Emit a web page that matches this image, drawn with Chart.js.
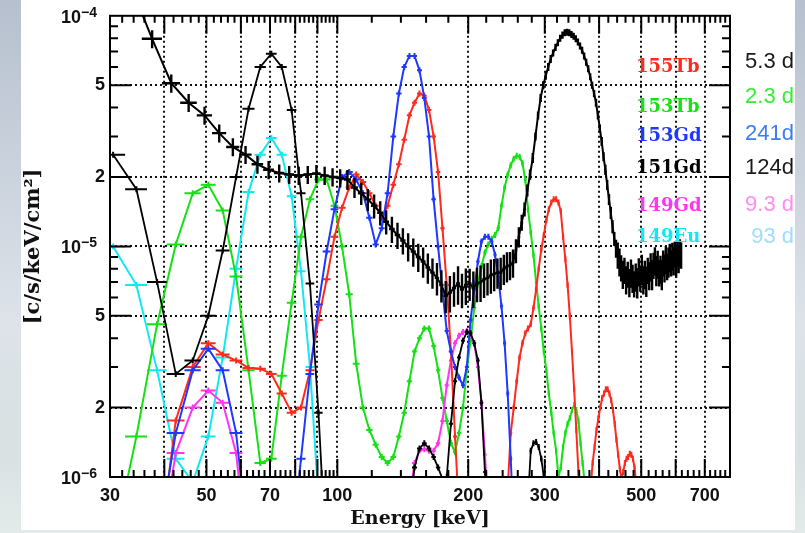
<!DOCTYPE html>
<html>
<head>
<meta charset="utf-8">
<script src="https://cdn.jsdelivr.net/npm/chart.js@4.4.0/dist/chart.umd.min.js"></script>
<style>
  html, body { margin: 0; padding: 0; }
  body {
    width: 805px; height: 533px; overflow: hidden; position: relative;
    background: linear-gradient(180deg, #b6c0ce 0%, #c9d1dc 30%, #dde3e9 60%, #d9e1e2 85%, #e2eaea 100%);
  }
  #panel { position: absolute; left: 21px; top: 0; width: 774px; height: 530px; background: #fff; }
  #wrap { position: absolute; left: 0; top: 0; width: 805px; height: 533px; }
</style>
</head>
<body>
<div id="panel"></div>
<div id="wrap"><canvas id="spectra"></canvas></div>
<script>
// half width of an energy bin (keV), drawn as the horizontal bar of each cross
const BIN_HALF = 2;

// axis ticks
const xLabels = [30, 50, 70, 100, 200, 300, 500, 700];
const xGrid = [40, 50, 60, 70, 80, 90, 100, 200, 300, 400, 500, 600, 700];
const yLabels = [1e-6, 2e-6, 5e-6, 1e-5, 2e-5, 5e-5, 1e-4];
const yGrid = [2e-6, 5e-6, 1e-5, 2e-5, 5e-5];
const yDecades = [1e-6, 1e-5, 1e-4];

const nuclides = ['155Tb', '153Tb', '153Gd', '151Gd', '149Gd', '149Eu'];
const halfLives = ['5.3 d', '2.3 d', '241d', '124d', '9.3 d', '93 d'];

// 155Tb
const tb155E = [38.5, 42.5, 46.5, 50.5, 54.5, 58.5, 62.5, 66.5, 70.5, 74.5,
  78.5, 82.5, 86.5, 90.5, 94.5, 98.5, 102.5, 106.5, 110.5, 114.5,
  118.5, 122.5, 126.5, 130.5, 134.5, 138.5, 142.5, 146.5, 150.5, 154.5,
  158.5, 162.5, 166.5, 170.5, 174.5, 178.5, 182.5, 186.5, 190.5,
  242.5, 246.5, 250.5, 254.5, 258.5, 262.5, 266.5, 270.5, 274.5, 278.5,
  282.5, 286.5, 290.5, 294.5, 298.5, 302.5, 306.5, 310.5, 314.5, 318.5,
  322.5, 326.5, 330.5, 334.5, 338.5, 342.5, 346.5, 350.5, 354.5, 358.5, 362.5,
  382.5, 386.5, 390.5, 394.5, 398.5, 402.5, 406.5, 410.5, 414.5, 418.5,
  422.5, 426.5, 430.5, 434.5, 438.5, 442.5, 446.5, 450.5, 454.5, 458.5,
  462.5, 466.5, 470.5, 474.5, 478.5, 482.5, 486.5, 490.5];
const tb155V = [4e-7, 1.76e-6, 3.0e-6, 3.8e-6, 3.4e-6, 3.2e-6, 2.97e-6, 2.95e-6, 2.8e-6, 2.3e-6,
  1.9e-6, 2.0e-6, 2.9e-6, 4.8e-6, 7.2e-6, 1.1e-5, 1.47e-5, 1.8e-5, 2.05e-5, 1.9e-5,
  1.7e-5, 1.5e-5, 1.33e-5, 1.5e-5, 1.85e-5, 2.27e-5, 2.9e-5, 3.7e-5, 4.2e-5, 4.6e-5,
  4.5e-5, 3.9e-5, 3.0e-5, 2.1e-5, 1.2e-5, 6.8e-6, 3.5e-6, 1.5e-6, 7e-7,
  7e-7, 9e-7, 1.55e-6, 2.0e-6, 2.6e-6, 3.3e-6, 3.8e-6, 4.2e-6, 4.4e-6, 4.6e-6,
  5.4e-6, 6.5e-6, 8.0e-6, 9.7e-6, 1.12e-5, 1.3e-5, 1.45e-5, 1.55e-5, 1.6e-5, 1.6e-5,
  1.55e-5, 1.42e-5, 1.1e-5, 8.8e-6, 6.8e-6, 5.0e-6, 3.5e-6, 2.4e-6, 1.6e-6, 1.05e-6, 6e-7,
  9e-7, 1.15e-6, 1.35e-6, 1.6e-6, 1.8e-6, 2.0e-6, 2.2e-6, 2.3e-6, 2.4e-6, 2.4e-6,
  2.3e-6, 2.15e-6, 1.95e-6, 1.7e-6, 1.45e-6, 1.25e-6, 1.08e-6, 9.8e-7, 1.05e-6, 1.15e-6,
  1.2e-6, 1.22e-6, 1.26e-6, 1.25e-6, 1.2e-6, 1.1e-6, 9.5e-7, 8e-7];

// 153Tb
const tb153E = [30.5, 34.5, 38.5, 42.5, 46.5, 50.5, 54.5, 58.5, 62.5, 66.5,
  70.5, 74.5, 78.5, 82.5, 86.5, 90.5, 94.5, 98.5, 102.5, 106.5,
  110.5, 114.5, 118.5, 122.5, 126.5, 130.5, 134.5, 138.5, 142.5, 146.5,
  150.5, 154.5, 158.5, 162.5, 166.5, 170.5, 174.5, 178.5, 182.5, 186.5,
  190.5, 194.5, 198.5, 202.5, 206.5, 210.5, 214.5, 218.5, 222.5, 226.5,
  230.5, 234.5, 238.5, 242.5, 246.5, 250.5, 254.5, 258.5, 262.5, 266.5,
  270.5, 274.5, 278.5, 282.5, 286.5, 290.5, 294.5, 298.5, 302.5, 306.5,
  310.5, 314.5, 318.5, 322.5, 326.5, 330.5, 334.5, 338.5, 342.5, 346.5,
  350.5, 354.5, 358.5, 362.5, 366.5, 370.5, 374.5];
const tb153V = [5e-7, 1.5e-6, 4.6e-6, 1.02e-5, 1.7e-5, 1.85e-5, 1.43e-5, 7.4e-6, 2.9e-6, 1.15e-6,
  1.2e-6, 2.75e-6, 5.7e-6, 1.1e-5, 1.6e-5, 1.95e-5, 1.95e-5, 1.5e-5, 1.0e-5, 6.2e-6,
  3.1e-6, 2.0e-6, 1.6e-6, 1.38e-6, 1.22e-6, 1.15e-6, 1.22e-6, 1.5e-6, 1.9e-6, 2.6e-6,
  3.5e-6, 4.0e-6, 4.4e-6, 4.4e-6, 3.7e-6, 2.9e-6, 2.2e-6, 1.75e-6, 1.4e-6, 1.28e-6,
  1.55e-6, 2.0e-6, 2.9e-6, 3.9e-6, 5.4e-6, 6.9e-6, 8.2e-6, 9.4e-6, 1.02e-5, 1.08e-5,
  1.12e-5, 1.2e-5, 1.5e-5, 1.8e-5, 2.05e-5, 2.25e-5, 2.4e-5, 2.47e-5, 2.45e-5, 2.3e-5,
  1.95e-5, 1.45e-5, 1.15e-5, 9.2e-6, 7.0e-6, 5.5e-6, 4.4e-6, 3.5e-6, 2.9e-6, 2.3e-6,
  1.9e-6, 1.55e-6, 1.3e-6, 1.0e-6, 1.1e-6, 1.35e-6, 1.55e-6, 1.7e-6, 1.8e-6, 1.95e-6,
  2.05e-6, 1.95e-6, 1.75e-6, 1.4e-6, 1.15e-6, 9.5e-7, 7e-7];

// 153Gd
const gd153E = [38.5, 42.5, 46.5, 50.5, 54.5, 58.5, 62.5,
  78.5, 82.5, 86.5, 90.5, 94.5, 98.5, 102.5, 106.5, 110.5, 114.5,
  118.5, 122.5, 126.5, 130.5, 134.5, 138.5, 142.5, 146.5, 150.5, 154.5,
  158.5, 162.5, 166.5, 170.5, 174.5, 178.5, 182.5, 186.5, 190.5, 194.5,
  198.5, 202.5, 206.5, 210.5, 214.5, 218.5, 222.5, 226.5, 230.5, 234.5,
  238.5, 242.5, 246.5, 250.5, 254.5];
const gd153V = [5e-7, 1.55e-6, 2.9e-6, 3.6e-6, 2.9e-6, 1.55e-6, 5e-7,
  5e-7, 1.2e-6, 2.8e-6, 5.6e-6, 9.5e-6, 1.45e-5, 2.0e-5, 2.1e-5, 1.95e-5, 1.7e-5,
  1.33e-5, 1.02e-5, 1.2e-5, 1.7e-5, 3.0e-5, 4.6e-5, 6.0e-5, 6.7e-5, 6.7e-5, 5.8e-5,
  4.4e-5, 3.0e-5, 1.6e-5, 1.0e-5, 6.4e-6, 4.3e-6, 3.5e-6, 3.0e-6, 2.7e-6, 2.5e-6,
  3.0e-6, 4.8e-6, 6.5e-6, 8.6e-6, 1.05e-5, 1.1e-5, 1.1e-5, 1.05e-5, 9.2e-6, 7.4e-6,
  5.5e-6, 3.8e-6, 2.3e-6, 1.2e-6, 6e-7];

// 151Gd
const gd151E = [30.5, 34.5, 38.5, 42.5, 46.5, 50.5, 54.5, 58.5, 62.5, 66.5,
  70.5, 74.5, 78.5, 82.5, 86.5, 90.5, 94.5,
  146.5, 150.5, 154.5, 158.5, 162.5, 166.5, 170.5, 174.5, 178.5, 182.5,
  186.5, 190.5, 194.5, 198.5, 202.5, 206.5, 210.5, 214.5, 218.5, 222.5,
  274.5, 278.5, 282.5, 286.5, 290.5, 294.5, 298.5, 302.5];
const gd151V = [2.5e-5, 1.77e-5, 7e-6, 2.8e-6, 3.2e-6, 5e-6, 9.6e-6, 2e-5, 3.95e-5, 6e-5,
  6.85e-5, 6e-5, 3.9e-5, 1.7e-5, 6.9e-6, 1.9e-6, 4e-7,
  7e-7, 1.1e-6, 1.33e-6, 1.4e-6, 1.33e-6, 1.22e-6, 1.1e-6, 9.8e-7, 1.0e-6, 1.7e-6,
  2.6e-6, 3.3e-6, 3.9e-6, 4.25e-6, 4.2e-6, 3.8e-6, 3.2e-6, 2.1e-6, 1.05e-6, 5e-7,
  8e-7, 1.3e-6, 1.4e-6, 1.42e-6, 1.35e-6, 1.2e-6, 1.0e-6, 7e-7];

// 149Gd
const gd149E = [38.5, 42.5, 46.5, 50.5, 54.5, 58.5, 62.5,
  146.5, 150.5, 154.5, 158.5, 162.5, 166.5, 170.5, 174.5, 178.5, 182.5,
  186.5, 190.5, 194.5, 198.5, 202.5, 206.5, 210.5, 214.5, 218.5, 222.5];
const gd149V = [4e-7, 1.27e-6, 2.0e-6, 2.37e-6, 2.1e-6, 1.27e-6, 4e-7,
  8e-7, 1.15e-6, 1.3e-6, 1.32e-6, 1.3e-6, 1.3e-6, 1.4e-6, 1.75e-6, 2.5e-6, 3.2e-6,
  3.8e-6, 4.1e-6, 4.25e-6, 4.3e-6, 4.15e-6, 3.8e-6, 3.0e-6, 2.1e-6, 1.25e-6, 7e-7];

// 149Eu
const eu149E = [30.5, 34.5, 38.5, 42.5, 46.5, 50.5, 54.5, 58.5, 62.5, 66.5,
  70.5, 74.5, 78.5, 82.5, 86.5, 90.5];
const eu149V = [1.0e-5, 6.8e-6, 2.9e-6, 1.2e-6, 9.5e-7, 1.5e-6, 3.3e-6, 8.0e-6, 1.72e-5, 2.5e-5,
  2.95e-5, 2.5e-5, 1.65e-5, 7.8e-6, 3.0e-6, 8e-7];

// measured background with relative errors
const bgE = [33.5, 37.5, 41.5, 45.5, 49.5, 53.5, 57.5, 61.5, 65.5, 69.5,
  73.5, 77.5, 81.5, 85.5, 89.5, 93.5, 97.5, 101.5, 105.5, 109.5,
  113.5, 117.5, 121.5, 125.5, 129.5, 133.5, 137.5, 141.5, 145.5, 149.5,
  153.5, 157.5, 161.5, 165.5, 169.5, 173.5, 177.5, 181.5, 185.5, 189.5,
  193.5, 197.5, 201.5, 205.5, 209.5, 213.5, 217.5, 221.5, 225.5, 229.5,
  233.5, 237.5, 241.5, 245.5, 249.5, 253.5, 257.5, 261.5, 265.5, 269.5,
  273.5, 277.5, 281.5, 285.5, 289.5, 293.5, 297.5, 301.5, 305.5, 309.5,
  313.5, 317.5, 321.5, 325.5, 329.5, 333.5, 337.5, 341.5, 345.5, 349.5,
  353.5, 357.5, 361.5, 365.5, 369.5, 373.5, 377.5, 381.5, 385.5, 389.5,
  393.5, 397.5, 401.5, 405.5, 409.5, 413.5, 417.5, 421.5, 425.5, 429.5,
  433.5, 437.5, 441.5, 445.5, 449.5, 453.5, 457.5, 461.5, 465.5, 469.5,
  473.5, 477.5, 481.5, 485.5, 489.5, 493.5, 497.5, 501.5, 505.5, 509.5,
  513.5, 517.5, 521.5, 525.5, 529.5, 533.5, 537.5, 541.5, 545.5, 549.5,
  553.5, 557.5, 561.5, 565.5, 569.5, 573.5, 577.5, 581.5, 585.5, 589.5,
  593.5, 597.5, 601.5, 605.5, 609.5, 613.5, 617.5];
const bgV = [1.35e-4, 7.95e-5, 5.1e-5, 4.2e-5, 3.7e-5, 3.1e-5, 2.7e-5, 2.5e-5, 2.27e-5, 2.15e-5,
  2.08e-5, 2.05e-5, 2.03e-5, 2.05e-5, 2.07e-5, 2.03e-5, 2.0e-5, 1.98e-5, 1.95e-5, 1.8e-5,
  1.7e-5, 1.6e-5, 1.5e-5, 1.4e-5, 1.28e-5, 1.19e-5, 1.12e-5, 1.06e-5, 1.0e-5, 9.5e-6,
  9.0e-6, 8.6e-6, 8.1e-6, 7.7e-6, 7.3e-6, 6.8e-6, 6.1e-6, 6.3e-6, 6.6e-6, 6.9e-6,
  6.5e-6, 6.8e-6, 6.9e-6, 6.6e-6, 6.9e-6, 7.0e-6, 7.2e-6, 7.3e-6, 7.5e-6, 7.6e-6,
  7.7e-6, 7.7e-6, 8.0e-6, 8.2e-6, 8.3e-6, 8.5e-6, 9.6e-6, 1.1e-5, 1.27e-5, 1.45e-5,
  1.75e-5, 2.05e-5, 2.42e-5, 3.0e-5, 3.7e-5, 4.4e-5, 5.0e-5, 5.5e-5, 6.0e-5, 6.5e-5,
  6.9e-5, 7.3e-5, 7.65e-5, 8.0e-5, 8.25e-5, 8.45e-5, 8.5e-5, 8.45e-5, 8.3e-5, 8.15e-5,
  7.95e-5, 7.7e-5, 7.4e-5, 7.1e-5, 6.7e-5, 6.3e-5, 5.9e-5, 5.45e-5, 5.0e-5, 4.6e-5,
  4.2e-5, 3.7e-5, 3.25e-5, 2.85e-5, 2.45e-5, 2.15e-5, 1.85e-5, 1.6e-5, 1.4e-5, 1.22e-5,
  1.08e-5, 9.8e-6, 9.2e-6, 8.6e-6, 8.1e-6, 7.6e-6, 7.9e-6, 7.2e-6, 7.6e-6, 7.0e-6,
  7.7e-6, 7.3e-6, 6.9e-6, 7.4e-6, 7.0e-6, 7.8e-6, 7.3e-6, 8.0e-6, 7.2e-6, 7.6e-6,
  7.1e-6, 7.9e-6, 7.5e-6, 8.2e-6, 7.6e-6, 8.3e-6, 8.7e-6, 7.9e-6, 8.4e-6, 7.7e-6,
  8.0e-6, 7.6e-6, 8.5e-6, 8.1e-6, 8.8e-6, 8.2e-6, 8.6e-6, 9.0e-6, 8.5e-6, 9.1e-6,
  8.7e-6, 9.3e-6, 8.6e-6, 9.4e-6, 8.9e-6, 9.5e-6, 9.2e-6];
const bgErr = [0.09, 0.09, 0.09, 0.09, 0.09, 0.09, 0.09, 0.09, 0.09, 0.09,
  0.09, 0.09, 0.09, 0.09, 0.09, 0.09, 0.09, 0.09, 0.10, 0.10,
  0.11, 0.11, 0.12, 0.12, 0.12, 0.13, 0.13, 0.13, 0.14, 0.14,
  0.14, 0.15, 0.15, 0.15, 0.16, 0.16, 0.16, 0.18, 0.17, 0.19,
  0.17, 0.18, 0.16, 0.18, 0.17, 0.18, 0.17, 0.16, 0.17, 0.16,
  0.15, 0.16, 0.15, 0.15, 0.14, 0.14, 0.12, 0.10, 0.08, 0.07,
  0.06, 0.05, 0.05, 0.04, 0.04, 0.04, 0.04, 0.04, 0.04, 0.04,
  0.035, 0.035, 0.035, 0.035, 0.035, 0.035, 0.035, 0.035, 0.035, 0.035,
  0.035, 0.035, 0.035, 0.035, 0.035, 0.035, 0.035, 0.035, 0.035, 0.035,
  0.04, 0.04, 0.04, 0.045, 0.045, 0.05, 0.05, 0.055, 0.06, 0.065,
  0.07, 0.09, 0.13, 0.14, 0.13, 0.14, 0.13, 0.14, 0.13, 0.14,
  0.14, 0.14, 0.13, 0.14, 0.15, 0.14, 0.13, 0.15, 0.14, 0.14,
  0.15, 0.13, 0.14, 0.14, 0.15, 0.13, 0.14, 0.15, 0.14, 0.13,
  0.14, 0.15, 0.13, 0.14, 0.14, 0.13, 0.15, 0.14, 0.13, 0.14,
  0.14, 0.13, 0.15, 0.13, 0.14, 0.13, 0.13];

const RED = '#ff2a1c', GREEN = '#14e014', BLUE = '#1f38ff', MAGENTA = '#ff35f2', CYAN = '#12e8f2';
const nuclideColors = [RED, GREEN, BLUE, '#000000', MAGENTA, CYAN];
const halfLifeColors = ['#1a1a1a', '#33ee33', '#3a7ef2', '#1a1a1a', '#ff8cf0', '#9fdcff'];

const SERIF = '"DejaVu Serif", serif';
const SANS = '"Liberation Sans", Arial, sans-serif';

const toPoints = (E, V) => E.map((e, i) => ({ x: e, y: V[i] }));

function series(E, V, color, width, extra) {
  return Object.assign({
    data: toPoints(E, V),
    borderColor: color,
    backgroundColor: color,
    borderWidth: width,
    showLine: true,
    pointRadius: 0,
    tension: 0,
    capPx: 3,
    barWidth: 2
  }, extra || {});
}

// first dataset is drawn last (on top)
const datasets = [
  series(bgE, bgV, '#000000', 2, { relErr: bgErr, barWidth: 2.4 }),
  series(gd151E, gd151V, '#000000', 1.8),
  series(gd153E, gd153V, BLUE, 2),
  series(tb155E, tb155V, RED, 2),
  series(gd149E, gd149V, MAGENTA, 2),
  series(tb153E, tb153V, GREEN, 2),
  series(eu149E, eu149V, CYAN, 2)
];

// energy-bin bars and error bars for every point
const crossPlugin = {
  id: 'crosses',
  afterDatasetDraw(chart, args) {
    const ds = chart.data.datasets[args.index];
    const { ctx, chartArea: a, scales: { x, y } } = chart;
    ctx.save();
    ctx.beginPath();
    ctx.rect(a.left, a.top, a.width, a.height);
    ctx.clip();
    ctx.strokeStyle = ds.borderColor;
    ctx.lineWidth = ds.barWidth;
    ctx.beginPath();
    ds.data.forEach((p, i) => {
      const xc = x.getPixelForValue(p.x);
      const yc = y.getPixelForValue(p.y);
      ctx.moveTo(x.getPixelForValue(p.x - BIN_HALF), yc);
      ctx.lineTo(x.getPixelForValue(p.x + BIN_HALF), yc);
      if (ds.relErr) {
        const e = ds.relErr[i];
        ctx.moveTo(xc, y.getPixelForValue(p.y * (1 + e)));
        ctx.lineTo(xc, y.getPixelForValue(p.y * (1 - e)));
      } else {
        ctx.moveTo(xc, yc - ds.capPx);
        ctx.lineTo(xc, yc + ds.capPx);
      }
    });
    ctx.stroke();
    ctx.restore();
  }
};

// closed frame with inward major/minor ticks on all four sides
const framePlugin = {
  id: 'frame',
  afterDatasetsDraw(chart) {
    const { ctx, chartArea: a, scales: { x, y } } = chart;
    ctx.save();
    ctx.strokeStyle = '#000';
    ctx.lineWidth = 2;
    ctx.beginPath();
    for (const dec of [1e-6, 1e-5]) {
      for (let m = 1; m <= 9; m++) {
        const py = y.getPixelForValue(m * dec);
        const len = (m === 1 || m === 2 || m === 5) ? 21 : 8;
        ctx.moveTo(a.left, py); ctx.lineTo(a.left + len, py);
        ctx.moveTo(a.right, py); ctx.lineTo(a.right - len, py);
      }
    }
    const xs = [];
    for (let v = 32; v < 100; v += 2) xs.push(v);
    for (let v = 100; v < 800; v += 20) xs.push(v);
    xs.forEach(v => {
      const px = x.getPixelForValue(v);
      const len = xGrid.includes(v) ? 18 : 7;
      ctx.moveTo(px, a.bottom); ctx.lineTo(px, a.bottom - len);
      ctx.moveTo(px, a.top); ctx.lineTo(px, a.top + len);
    });
    ctx.stroke();
    ctx.strokeRect(a.left, a.top, a.width, a.height);
    ctx.restore();
  }
};

// decade labels (10 with superscript exponent) and the nuclide / half-life captions
const textPlugin = {
  id: 'captions',
  afterDraw(chart) {
    const { ctx, chartArea: a, scales: { y } } = chart;
    ctx.save();
    ctx.fillStyle = '#111';
    ctx.textBaseline = 'alphabetic';
    yDecades.forEach(v => {
      const py = y.getPixelForValue(v);
      const exp = '\u2212' + Math.abs(Math.round(Math.log10(v)));
      ctx.font = 'bold 14px ' + SANS;
      const w = ctx.measureText(exp).width;
      const xr = a.left - 13;
      ctx.textAlign = 'left';
      ctx.fillText(exp, xr - w, py + 1);
      ctx.font = 'bold 18px ' + SANS;
      ctx.textAlign = 'right';
      ctx.fillText('10', xr - w, py + 7);
    });

    const nuclideRows = [67, 107, 136, 168, 206, 237];
    const halfLifeRows = [62, 97, 134, 168, 205, 237];
    ctx.textBaseline = 'middle';
    ctx.textAlign = 'left';
    ctx.font = 'bold 18px ' + SERIF;
    nuclides.forEach((t, i) => {
      ctx.fillStyle = nuclideColors[i];
      ctx.fillText(t, a.right - 94, nuclideRows[i]);
    });
    ctx.textAlign = 'right';
    ctx.font = '22px ' + SANS;
    halfLives.forEach((t, i) => {
      ctx.fillStyle = halfLifeColors[i];
      ctx.fillText(t, chart.width - 11, halfLifeRows[i]);
    });
    ctx.restore();
  }
};

const xTicks = [...new Set([...xLabels, ...xGrid])].sort((p, q) => p - q);

new Chart(document.getElementById('spectra'), {
  type: 'scatter',
  data: { datasets },
  plugins: [crossPlugin, framePlugin, textPlugin],
  options: {
    responsive: true,
    maintainAspectRatio: false,
    animation: false,
    devicePixelRatio: 1,
    events: [],
    layout: { padding: { left: 0, right: 75, top: 14, bottom: 0 } },
    plugins: { legend: { display: false }, tooltip: { enabled: false } },
    scales: {
      x: {
        type: 'logarithmic',
        min: 30,
        max: 800,
        afterBuildTicks: s => { s.ticks = xTicks.map(v => ({ value: v })); },
        afterFit: s => { s.height = 56; },
        grid: {
          color: c => (c.tick && xGrid.includes(c.tick.value)) ? '#111' : 'rgba(0,0,0,0)',
          lineWidth: 2,
          drawTicks: false
        },
        border: { display: false, dash: [2, 3] },
        ticks: {
          autoSkip: false,
          maxRotation: 0,
          padding: 8,
          color: '#111',
          font: { family: SANS, weight: 'bold', size: 18 },
          callback: v => xLabels.includes(v) ? String(v) : ''
        },
        title: {
          display: true,
          text: 'Energy [keV]',
          color: '#111',
          font: { family: SERIF, weight: 'bold', size: 19 },
          padding: { top: 0, bottom: 3 }
        }
      },
      y: {
        type: 'logarithmic',
        min: 1e-6,
        max: 1e-4,
        afterBuildTicks: s => { s.ticks = yLabels.map(v => ({ value: v })); },
        afterFit: s => { s.width = 110; },
        grid: {
          color: c => (c.tick && yGrid.includes(c.tick.value)) ? '#111' : 'rgba(0,0,0,0)',
          lineWidth: 2,
          drawTicks: false
        },
        border: { display: false, dash: [2, 3] },
        ticks: {
          padding: 5,
          color: '#111',
          font: { family: SANS, weight: 'bold', size: 18 },
          callback: v => yDecades.includes(v) ? '' : String(Math.round(v / Math.pow(10, Math.floor(Math.log10(v) + 1e-9))))
        },
        title: {
          display: true,
          text: '[c/s/keV/cm\u00b2]',
          color: '#111',
          font: { family: SERIF, weight: 'bold', size: 21 },
          padding: { top: 21, bottom: 0 }
        }
      }
    }
  }
});
</script>
</body>
</html>
